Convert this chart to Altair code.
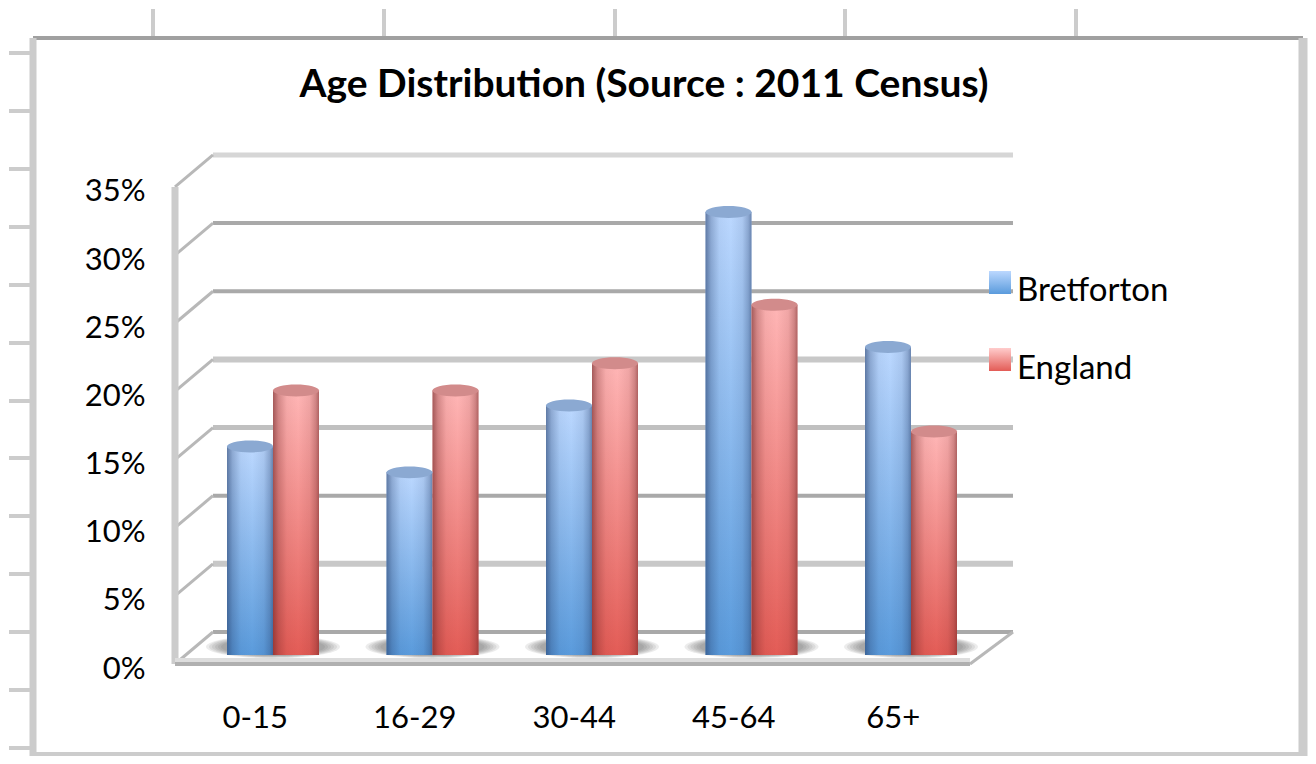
import altair as alt
import pandas as pd

categories = ["0-15", "16-29", "30-44", "45-64", "65+"]
bretforton = [15.3, 13.4, 18.3, 32.5, 22.6]
england = [19.4, 19.4, 21.4, 25.7, 16.4]
series_names = ["Bretforton", "England"]
y_ticks = [0, 5, 10, 15, 20, 25, 30, 35]

FONT = "Lato"
PX_X = 159.5
PX_Y = 13.63
OX, OY = 175, 155
W, H = 838, 509
BAR_W = 46 / PX_X
SHIFT = 18.25 / PX_X
BASE = 9 / PX_Y
BACK = 32 / PX_Y
DEPTH = 38 / PX_X
FRONT_END = 795 / PX_X
XMAX = W / PX_X
YMAX = H / PX_Y

rows = []
for i, c in enumerate(categories):
    mid = i + 0.5 + SHIFT
    rows.append(dict(cat=c, series="Bretforton", v=bretforton[i], x0=mid - BAR_W, x1=mid,
                     y0=BASE, y1=BASE + bretforton[i], mid=mid))
    rows.append(dict(cat=c, series="England", v=england[i], x0=mid, x1=mid + BAR_W,
                     y0=BASE, y1=BASE + england[i], mid=mid))
bars = pd.DataFrame(rows)
bars["cx"] = (bars.x0 + bars.x1) / 2

x_scale = alt.Scale(domain=[0, XMAX], nice=False, zero=False)
y_scale = alt.Scale(domain=[0, YMAX], nice=False, zero=False)
x_axis = alt.Axis(values=[i + 0.5 for i in range(5)], title=None, grid=False, domain=False,
                  ticks=False, labelFontSize=31, labelFont=FONT, labelColor="#000",
                  labelPadding=39, labelAngle=0, labelFlush=False,
                  labelExpr="['0-15','16-29','30-44','45-64','65+'][floor(datum.value)]")
y_axis = alt.Axis(values=y_ticks, title=None, grid=False, domain=False, ticks=False,
                  labelFontSize=31, labelFont=FONT, labelColor="#000", labelPadding=30,
                  labelOffset=5, labelExpr="datum.value + '%'")

def X(f):
    return alt.X(f"{f}:Q", scale=x_scale, axis=x_axis, title=None)

def Y(f):
    return alt.Y(f"{f}:Q", scale=y_scale, axis=y_axis, title=None)

# --- sheet decoration (spreadsheet cells and chart frame)
sheet = []
def seg(x, x2, y, y2, color, w):
    sheet.append(alt.Chart(pd.DataFrame({"a": [0]})).mark_rule(color=color, strokeWidth=w).encode(
        x=alt.value(x - OX), x2=alt.value(x2 - OX), y=alt.value(y - OY), y2=alt.value(y2 - OY)))

for k in range(13):
    yy = 53 + 58 * k - (1 if k > 6 else 0)
    seg(9, 34, yy, yy, "#cccccc", 4)
for k in range(5):
    xx = 153 + 231 * k - (0 if k < 3 else 1)
    seg(xx, xx, 9, 36, "#cccccc", 4)
seg(33, 1303, 38, 38, "#a0a0a0", 4)
seg(33, 33, 38, 756, "#cccccc", 7)
seg(1303, 1303, 38, 756, "#cccccc", 9)
seg(30, 1303, 754, 754, "#cccccc", 4)

# --- 3-D walls, through the chart's own scales
grid_colors = ["#a9a9a9", "#c8c8c8", "#a9a9a9", "#c0c0c0", "#c8c8c8", "#a9a9a9", "#a9a9a9", "#d6d6d6"]
grid_widths = [4, 6, 4, 5, 6, 4, 4, 5]
wall_rows = []
for t, c, w in zip(y_ticks, grid_colors, grid_widths):
    wall_rows.append(dict(x0=DEPTH, x1=XMAX, y0=t + BACK, y1=t + BACK, c=c, w=w))
    wall_rows.append(dict(x0=0, x1=DEPTH, y0=t, y1=t + BACK, c="#b8b8b8", w=3))
wall_rows.append(dict(x0=0, x1=0, y0=0, y1=35, c="#cccccc", w=7))
wall_rows.append(dict(x0=0, x1=FRONT_END, y0=0, y1=0, c="#b0b0b0", w=4))
wall_rows.append(dict(x0=0, x1=FRONT_END, y0=0.3, y1=0.3, c="#dddddd", w=4))
wall_rows.append(dict(x0=FRONT_END, x1=XMAX, y0=0, y1=BACK, c="#b8b8b8", w=3))
walls = alt.Chart(pd.DataFrame(wall_rows)).mark_rule().encode(
    x=X("x0"), x2="x1:Q", y=Y("y0"), y2="y1:Q",
    color=alt.Color("c:N", scale=None, legend=None),
    strokeWidth=alt.StrokeWidth("w:Q", scale=None, legend=None))

ELL = "M-1,0A1,0.17 0 1,1 1,0A1,0.17 0 1,1 -1,0Z"
TOP = "M-1,0A1,0.26 0 1,1 1,0A1,0.26 0 1,1 -1,0Z"
mids = bars.drop_duplicates("cat").assign(sy=BASE + 0.6)
shadows = [alt.Chart(mids).mark_point(shape=ELL, filled=True, color="#555555", opacity=0.11, strokeWidth=0, size=s).encode(
    x=X("mid"), y=Y("sy")) for s in (134**2, 128**2, 122**2, 116**2, 110**2, 104**2)]

def g_vert(a, b):
    return alt.Gradient(gradient="linear", x1=0, y1=0, x2=0, y2=1,
                        stops=[alt.GradientStop(color=a, offset=0), alt.GradientStop(color=b, offset=1)])

def g_edge(rgb):
    stops = [(0, .62), (.12, .30), (.3, .06), (.55, 0), (.8, .10), (.93, .32), (1, .55)]
    return alt.Gradient(gradient="linear", x1=0, y1=0, x2=1, y2=0,
                        stops=[alt.GradientStop(color=f"rgba({rgb},{o})", offset=p) for p, o in stops])

layers_bars = []
for name, a, b, rgb in [("Bretforton", "#bcd8ff", "#5a9bdc", "40,65,110"),
                        ("England", "#ffb6b6", "#e35c56", "110,35,35")]:
    src = alt.Chart(bars[bars.series == name])
    layers_bars.append(src.mark_bar(color=g_vert(a, b)).encode(x=X("x0"), x2="x1:Q", y=Y("y0"), y2="y1:Q"))
    layers_bars.append(src.mark_bar(color=g_edge(rgb)).encode(x=X("x0"), x2="x1:Q", y=Y("y0"), y2="y1:Q"))

tops = alt.Chart(bars).mark_point(shape=TOP, filled=True, opacity=1, strokeWidth=0, size=46**2).encode(
    x=X("cx"),
    y=Y("y1"),
    color=alt.Color("series:N",
                    scale=alt.Scale(domain=series_names, range=["#8ba9d2", "#d28b8b"]),
                    legend=alt.Legend(title=None, orient="none", legendX=1000 - OX - 8 - 26, legendY=274 - OY,
                                      symbolType="square", symbolSize=1, symbolOpacity=0, symbolStrokeWidth=0,
                                      labelFont=FONT, labelFontSize=33, labelColor="#000",
                                      labelOffset=18, rowPadding=44, padding=0)))

# gradient swatches in place of the legend symbols
swatches = []
for idx, (a, b) in enumerate([("#bcd8ff", "#5a9bdc"), ("#ffcccc", "#e35c56")]):
    top = 271 + 77 * idx
    swatches.append(alt.Chart(pd.DataFrame({"a": [0]})).mark_rect(color=g_vert(a, b)).encode(
        x=alt.value(989 - OX), x2=alt.value(1011 - OX), y=alt.value(top - OY), y2=alt.value(top + 23 - OY)))

chart = alt.layer(*sheet, walls, *shadows, *layers_bars, tops, *swatches).resolve_scale(color="independent").properties(
    width=W, height=H,
    autosize=alt.AutoSizeParams(type="none"),
    background="white",
    padding={"left": OX - 8, "top": OY - 8, "right": 1300 - (OX - 8) - W, "bottom": 748 - (OY - 8) - H},
    title=alt.TitleParams("Age Distribution (Source : 2011 Census)", font=FONT, fontSize=39, fontWeight="bold",
                          color="#000", anchor="middle", dx=50, offset=-98),
).configure_view(stroke=None)

chart.save("out.html", embed_options={"renderer": "svg", "actions": False})
